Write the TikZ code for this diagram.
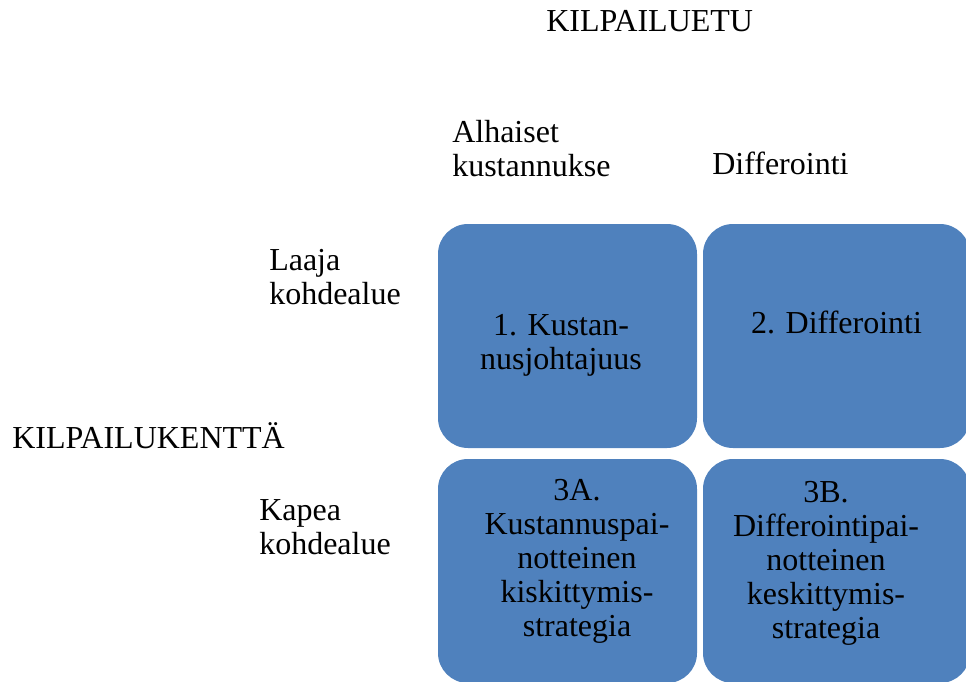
\documentclass[tikz,border=0pt]{standalone}
\usepackage{fontspec}
\setmainfont{Liberation Serif}
\definecolor{boxblue}{HTML}{4F81BD}
\begin{document}
\begin{tikzpicture}[x=0.75pt,y=-0.75pt,
  box/.style={draw=none, fill=boxblue, rounded corners=22.5pt, minimum height=168pt, inner sep=0pt},
  lbl/.style={inner sep=0pt, font=\rmfamily\fontsize{24}{25.5}\selectfont, align=left, anchor=base west},
  btxt/.style={inner sep=0pt, font=\rmfamily\fontsize{24}{25.5}\selectfont, align=center, anchor=base}]
\useasboundingbox (0,0) rectangle (966,681);
% boxes
\node[box, minimum width=194.25pt] (b1) at (567.5,336) {};
\node[box, minimum width=200.25pt] (b2) at (836.5,336) {};
\node[box, minimum width=194.25pt] (b3) at (567.5,571) {};
\node[box, minimum width=200.25pt] (b4) at (836.5,571) {};
% box texts (anchor = baseline of last line)
\node[btxt] (t1) at (561,369) {1. Kustan-\\nusjohtajuus};
\node[btxt] (t2) at (836.5,333) {2. Differointi};
\node[btxt] (t3) at (577,636) {3A.\\Kustannuspai-\\notteinen\\kiskittymis-\\strategia};
\node[btxt] (t4) at (826,638) {3B.\\Differointipai-\\notteinen\\keskittymis-\\strategia};
% labels
\node[lbl] (top) at (546,32) {KILPAILUETU};
\node[lbl] (low) at (452,176) {Alhaiset\\kustannukse};
\node[lbl] (diff) at (712,175) {Differointi};
\node[lbl] (laaja) at (269,304) {Laaja\\kohdealue};
\node[lbl] (field) at (12,448) {KILPAILUKENTTÄ};
\node[lbl] (kapea) at (259,554) {Kapea\\kohdealue};
\end{tikzpicture}
\end{document}
